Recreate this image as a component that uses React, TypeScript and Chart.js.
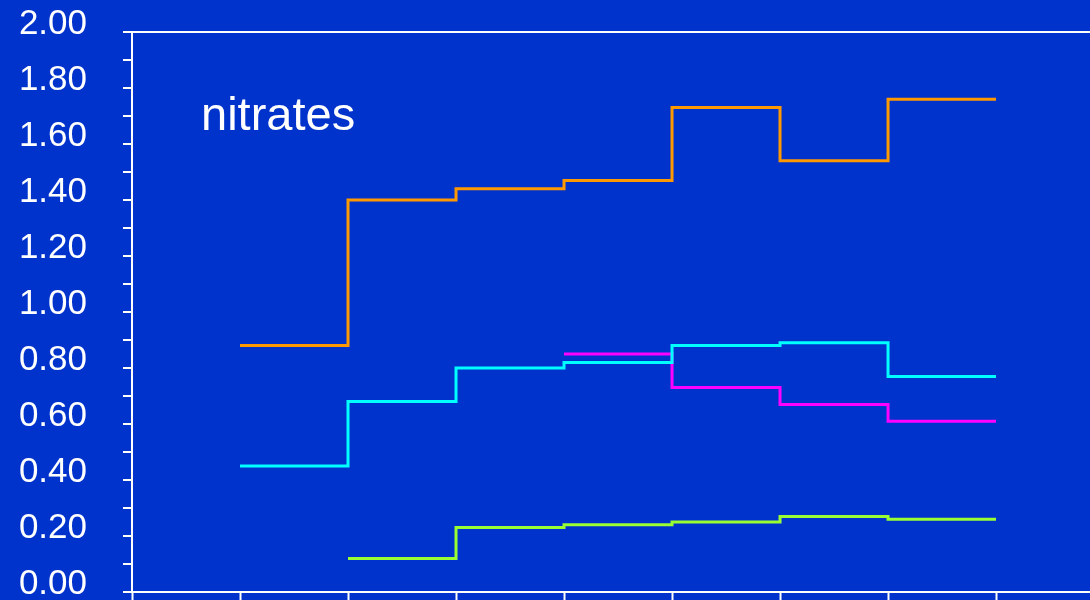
import { useEffect, useRef } from 'react';
import { Chart, registerables } from 'chart.js';

Chart.register(...registerables);

// Period boundaries run 0..8 along the x axis; each series holds one value per period.
const periodTicks = [0, 1, 2, 3, 4, 5, 6, 7, 8];

const orangeStart = 1;
const orangeValues = [0.88, 1.4, 1.44, 1.47, 1.73, 1.54, 1.76];

const cyanStart = 1;
const cyanValues = [0.45, 0.68, 0.8, 0.82, 0.88, 0.89, 0.77];

const magentaStart = 4;
const magentaValues = [0.85, 0.73, 0.67, 0.61];

const greenStart = 2;
const greenValues = [0.12, 0.23, 0.24, 0.25, 0.27, 0.26];

const yTickValues = [0, 0.2, 0.4, 0.6, 0.8, 1.0, 1.2, 1.4, 1.6, 1.8, 2.0];

const titleText = 'nitrates';

// Each value holds from the start of its period to the start of the next one.
function stepPoints(start: number, values: number[]) {
  const pts = values.map((v, i) => ({ x: start + i, y: v }));
  pts.push({ x: start + values.length, y: values[values.length - 1] });
  return pts;
}

const FONT = '"Liberation Sans", Arial, sans-serif';

const titlePlugin = {
  id: 'cornerTitle',
  afterDraw(chart: any) {
    const { ctx, chartArea } = chart;
    ctx.save();
    ctx.fillStyle = '#ffffff';
    ctx.font = `47px ${FONT}`;
    ctx.textAlign = 'left';
    ctx.textBaseline = 'alphabetic';
    ctx.fillText(titleText, chartArea.left + 69, chartArea.top + 98);
    ctx.restore();
  },
};

export default function App() {
  const canvasRef = useRef<HTMLCanvasElement | null>(null);

  useEffect(() => {
    if (!canvasRef.current) return;
    const line = (data: { x: number; y: number }[], color: string) => ({
      data,
      borderColor: color,
      backgroundColor: color,
      borderWidth: 3,
      pointRadius: 0,
      pointHoverRadius: 0,
      stepped: 'before' as const,
      tension: 0,
      fill: false,
    });

    const chart = new Chart(canvasRef.current, {
      type: 'line',
      data: {
        datasets: [
          line(stepPoints(greenStart, greenValues), '#99ff33'),
          line(stepPoints(cyanStart, cyanValues), '#00ffff'),
          line(stepPoints(magentaStart, magentaValues), '#ff00ff'),
          line(stepPoints(orangeStart, orangeValues), '#ff9900'),
        ],
      },
      options: {
        animation: false,
        responsive: false,
        events: [],
        layout: { padding: { top: 32, left: 0, right: 0, bottom: 0 } },
        plugins: {
          legend: { display: false },
          tooltip: { enabled: false },
          title: { display: false },
        },
        scales: {
          x: {
            type: 'linear',
            min: periodTicks[0],
            max: 8.87,
            ticks: { display: false, stepSize: 1 },
            afterBuildTicks: (s: any) => {
              s.ticks = periodTicks.map((v) => ({ value: v }));
            },
            afterFit: (s: any) => {
              s.height = 8;
              s.paddingLeft = 0;
              s.paddingRight = 0;
            },
            grid: {
              drawOnChartArea: false,
              drawTicks: true,
              tickLength: 8,
              tickColor: '#ffffff',
              tickWidth: 2,
              color: '#ffffff',
            },
            border: { color: '#ffffff', width: 2 },
          },
          y: {
            min: 0,
            max: 2,
            ticks: {
              stepSize: 0.1,
              autoSkip: false,
              color: '#ffffff',
              font: { family: FONT, size: 35 },
              padding: 36,
              labelOffset: -8,
              callback: (v: any) => {
                const n = Number(v);
                const hit = yTickValues.find((t) => Math.abs(t - n) < 1e-6);
                return hit !== undefined ? hit.toFixed(2) : '';
              },
            },
            afterFit: (s: any) => {
              s.width = 132;
              s.paddingTop = 0;
              s.paddingBottom = 0;
            },
            grid: {
              color: (c: any) =>
                c.tick && Math.abs(c.tick.value - 2) < 1e-6 ? '#ffffff' : 'rgba(0,0,0,0)',
              lineWidth: 2,
              tickColor: '#ffffff',
              tickLength: 9,
              tickWidth: 2,
            },
            border: { color: '#ffffff', width: 2 },
          },
        },
      },
      plugins: [titlePlugin],
    });
    return () => chart.destroy();
  }, []);

  return (
    <div
      style={{
        position: 'fixed',
        left: 0,
        top: 0,
        width: 1090,
        height: 600,
        overflow: 'hidden',
        background: '#0033cc',
      }}
    >
      <canvas ref={canvasRef} width={1090} height={600} style={{ display: 'block' }} />
    </div>
  );
}
